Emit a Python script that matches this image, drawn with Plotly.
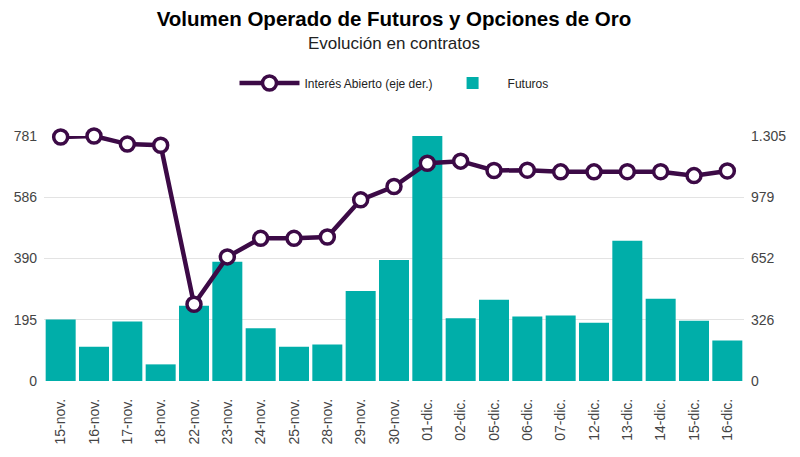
import plotly.graph_objects as go

categories = ["15-nov.", "16-nov.", "17-nov.", "18-nov.", "22-nov.", "23-nov.", "24-nov.",
              "25-nov.", "28-nov.", "29-nov.", "30-nov.", "01-dic.", "02-dic.", "05-dic.",
              "06-dic.", "07-dic.", "12-dic.", "13-dic.", "14-dic.", "15-dic.", "16-dic."]
futuros = [196, 109, 190, 53, 240, 380, 168, 109, 116, 287, 386, 781, 200, 259,
           206, 209, 186, 447, 262, 192, 129]
interes_abierto = [1300, 1305, 1262, 1256, 409, 661, 760, 760, 767, 965, 1036, 1160,
                   1171, 1121, 1123, 1114, 1114, 1115, 1115, 1094, 1119]

left_tickvals = [0, 195.25, 390.5, 585.75, 781]
left_ticktext = ["0", "195", "390", "586", "781"]
right_tickvals = [0, 326.25, 652.5, 978.75, 1305]
right_ticktext = ["0", "326", "652", "979", "1.305"]

purple = "#3c0a46"
teal = "#00aea9"
font_family = "Liberation Sans, Arial, sans-serif"

W, H = 792, 449  # page body has an 8px margin
plot_top, plot_bottom = 128, 373

fig = go.Figure()
fig.add_trace(go.Scatter(
    x=categories, y=interes_abierto, name="Interés Abierto (eje der.)",
    mode="lines+markers", yaxis="y2", cliponaxis=False,
    line=dict(color=purple, width=4.5),
    marker=dict(size=14, color="white", line=dict(color=purple, width=3.5)),
))
fig.add_trace(go.Bar(
    x=categories, y=futuros, name="Futuros", marker=dict(color=teal, line=dict(width=0)),
))

fig.update_layout(
    width=W, height=H,
    margin=dict(l=36, r=56, t=plot_top, b=H - plot_bottom, autoexpand=False),
    paper_bgcolor="white", plot_bgcolor="white",
    font=dict(family=font_family, color="#333333", size=14),
    bargap=0.1,
    showlegend=True,
    title=dict(text="<b>Volumen Operado de Futuros y Opciones de Oro</b>",
               x=0.5, xanchor="center", xref="paper",
               y=1, yanchor="top", yref="container", pad=dict(t=4),
               font=dict(size=20.5, color="black", family=font_family)),
    legend=dict(orientation="h", x=0.5, xanchor="center",
                y=(plot_bottom - 75) / (plot_bottom - plot_top), yanchor="middle",
                font=dict(size=12, color="#222222"), traceorder="normal",
                itemwidth=60, tracegroupgap=0),
    xaxis=dict(type="category", range=[-0.5, len(categories) - 0.5], tickangle=-90,
               showgrid=False, ticks="", automargin=False, ticklabelstandoff=14,
               tickfont=dict(size=14, color="#444444"), showline=False, zeroline=False),
    yaxis=dict(range=[0, 781], tickvals=left_tickvals, ticktext=left_ticktext, automargin=False,
               showgrid=True, gridcolor="#e3e3e3", gridwidth=1, zeroline=False,
               ticklabelstandoff=6,
               tickfont=dict(size=14, color="#444444"), ticks=""),
    yaxis2=dict(range=[0, 1305], tickvals=right_tickvals, ticktext=right_ticktext,
                overlaying="y", side="right", showgrid=False, zeroline=False, automargin=False,
                ticklabelstandoff=6,
                tickfont=dict(size=14, color="#444444"), ticks=""),
    annotations=[dict(text="Evolución en contratos", xref="paper", yref="paper",
                      x=0.5, y=(plot_bottom - 36) / (plot_bottom - plot_top),
                      xanchor="center", yanchor="middle",
                      showarrow=False, font=dict(size=17, color="#222222"))],
)

fig.write_html("out.html")
